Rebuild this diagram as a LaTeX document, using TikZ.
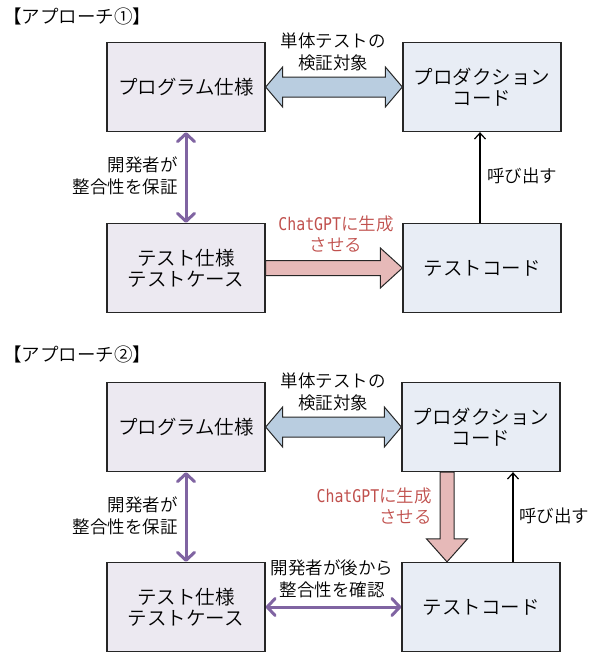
\documentclass[tikz,border=0pt]{standalone}
\usepackage{fontspec}
\setmainfont{Noto Sans CJK JP}[UprightFont={* DemiLight}]
\newfontfamily\gptfont[FakeStretch=0.85]{DejaVu Sans Mono}
\usetikzlibrary{arrows.meta,calc}

\definecolor{specfill}{HTML}{ECE9F1}
\definecolor{codefill}{HTML}{E8EDF5}
\definecolor{verifyblue}{HTML}{B9CDE0}
\definecolor{genpink}{HTML}{E6B9B8}
\definecolor{devpurple}{HTML}{8064A2}
\definecolor{gptred}{HTML}{C0504D}

\tikzset{
    box/.style={draw=black!85, line width=1.3pt, minimum width=158pt,
        minimum height=89pt, inner sep=0pt, align=center,
        font=\fontsize{19.5}{21}\selectfont},
    specbox/.style={box, fill=specfill},
    codebox/.style={box, fill=codefill},
    lbl/.style={align=center, inner sep=0pt, font=\fontsize{17.5}{21.5}\selectfont},
    gptlbl/.style={lbl, text=gptred},
    heading/.style={anchor=west, inner sep=0pt, font=\fontsize{18.5}{21}\selectfont},
    fatblue/.style={draw=black!85, line width=1pt, fill=verifyblue},
    fatpink/.style={draw=black!85, line width=1pt, fill=genpink},
    devcheck/.style={draw=devpurple, line width=3pt,
        {Straight Barb[length=8pt,width=17pt,round]}-{Straight Barb[length=8pt,width=17pt,round]}},
    calls/.style={draw=black, line width=1.2pt, -{Straight Barb[length=6pt,width=11pt]}}
}

\begin{document}
\begin{tikzpicture}[x=1pt, y=-1pt]
    \useasboundingbox (0,0) rectangle (591,654);

    % approach 1
    \node[heading] (h1) at (3,16) {【アプローチ①】};
    \node[specbox] (pa) at (186,87) {プログラム仕様};
    \node[codebox] (pb) at (482,87) {プロダクション\\コード};
    \node[specbox] (pc) at (186,268) {テスト仕様\\テストケース};
    \node[codebox] (pd) at (482,268) {テストコード};

    \draw[fatblue] (pa.east) -- ++(17,-20) -- ++(0,10) -- ($(pb.west)+(-17,-10)$)
        -- ++(0,-10) -- (pb.west) -- ++(-17,20) -- ++(0,-10)
        -- ($(pa.east)+(17,10)$) -- ++(0,10) -- cycle;
    \draw[fatpink] ($(pc.east)+(0,-7.5)$) -- ($(pd.west)+(-22,-7.5)$) -- ++(0,-12.5)
        -- (pd.west) -- ++(-22,20) -- ++(0,-12.5) -- ($(pc.east)+(0,7.5)$) -- cycle;
    \draw[devcheck] (pa.south) -- (pc.north);
    \draw[calls] ([xshift=-2pt]pd.north) -- ([xshift=-2pt]pb.south);

    \node[lbl] (t1) at (333,52) {単体テストの\\検証対象};
    \node[lbl, anchor=east, align=right] (d1) at (178,176) {開発者が\\整合性を保証};
    \node[gptlbl] (g1) at (336,234) {{\gptfont ChatGPT}に生成\\させる};
    \node[lbl, anchor=west] (c1) at (487,176) {呼び出す};

    % approach 2
    \node[heading] (h2) at (3,354) {【アプローチ②】};
    \node[specbox] (pa2) at (186,427) {プログラム仕様};
    \node[codebox] (pb2) at (481,427) {プロダクション\\コード};
    \node[specbox] (pc2) at (186,607) {テスト仕様\\テストケース};
    \node[codebox] (pd2) at (481,607) {テストコード};

    \draw[fatblue] (pa2.east) -- ++(17,-20) -- ++(0,10) -- ($(pb2.west)+(-17,-10)$)
        -- ++(0,-10) -- (pb2.west) -- ++(-17,20) -- ++(0,-10)
        -- ($(pa2.east)+(17,10)$) -- ++(0,10) -- cycle;
    \draw[fatpink] ($(pb2.south)+(-41,0)$) -- ($(pd2.north)+(-41,-23)$) -- ++(-13.5,0)
        -- ($(pd2.north)+(-34,0)$) -- ++(20.5,-23) -- ++(-13.5,0)
        -- ($(pb2.south)+(-27,0)$) -- cycle;
    \draw[devcheck] (pa2.south) -- (pc2.north);
    \draw[devcheck] (pc2.east) -- (pd2.west);
    \draw[calls] ([xshift=32pt]pd2.north) -- ([xshift=32pt]pb2.south);

    \node[lbl] (t2) at (333,392) {単体テストの\\検証対象};
    \node[lbl, anchor=east, align=right] (d2) at (178,516) {開発者が\\整合性を保証};
    \node[gptlbl, anchor=east, align=right] (g2) at (432,506) {{\gptfont ChatGPT}に生成\\させる};
    \node[lbl, anchor=west] (c2) at (519,516) {呼び出す};
    \node[lbl] (d3) at (332,579) {開発者が後から\\整合性を確認};
\end{tikzpicture}
\end{document}
